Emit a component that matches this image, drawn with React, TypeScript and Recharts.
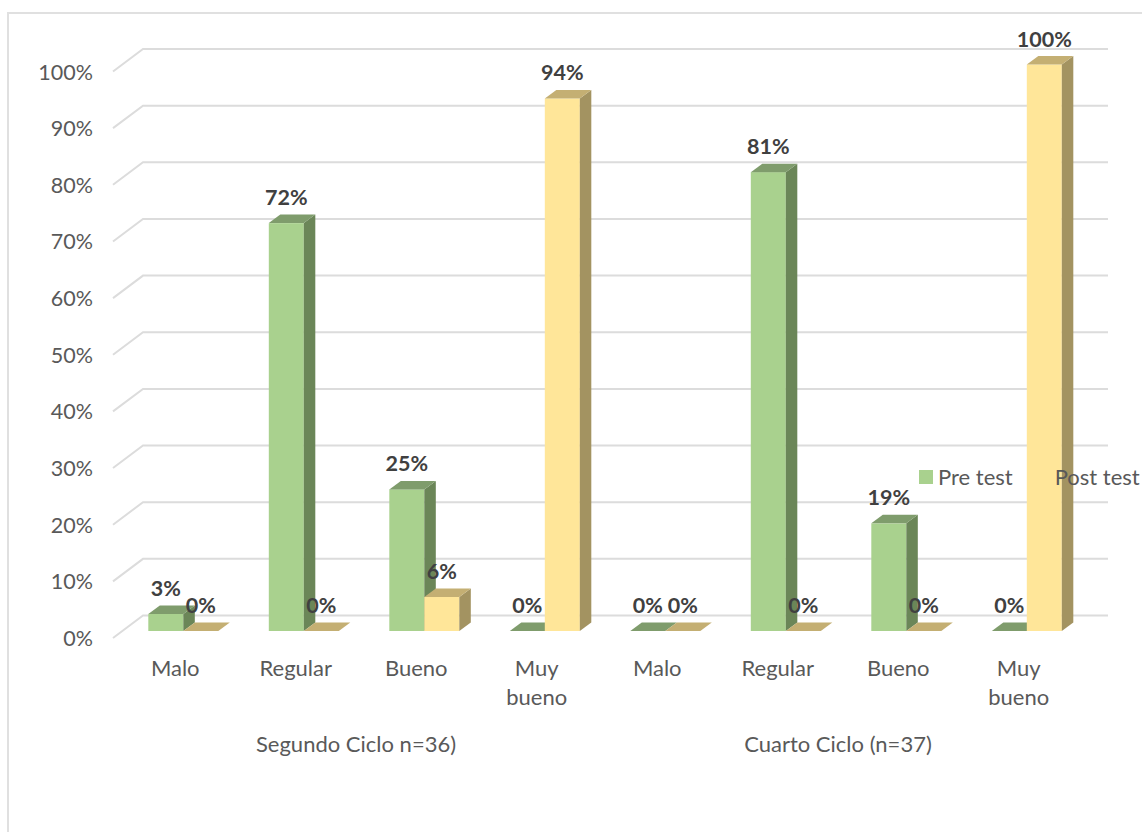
import { Bar, BarChart, CartesianGrid, LabelList, Legend, XAxis, YAxis } from 'recharts';

const categorias = ['Malo', 'Regular', 'Bueno', 'Muy bueno', 'Malo', 'Regular', 'Bueno', 'Muy bueno'];
const grupos = [
  'Segundo Ciclo n=36)',
  'Segundo Ciclo n=36)',
  'Segundo Ciclo n=36)',
  'Segundo Ciclo n=36)',
  'Cuarto Ciclo (n=37)',
  'Cuarto Ciclo (n=37)',
  'Cuarto Ciclo (n=37)',
  'Cuarto Ciclo (n=37)',
];
const preTest = [3, 72, 25, 0, 0, 81, 19, 0];
const postTest = [0, 0, 6, 94, 0, 0, 0, 100];
const yTicks = [0, 10, 20, 30, 40, 50, 60, 70, 80, 90, 100];

const chartData = categorias.map((categoria, i) => ({
  categoria,
  grupo: grupos[i],
  pre: preTest[i],
  post: postTest[i],
}));

const FONT = 'Lato, sans-serif';
const DEPTH_X = 11.5;
const DEPTH_Y = 8.5;

// caras de la barra 3D
function bar3d(front: string, top: string, side: string) {
  return (props: any) => {
    const { x, y, width, height } = props;
    const dx = DEPTH_X;
    const dy = DEPTH_Y;
    return (
      <g>
        {height > 0 && <rect x={x} y={y} width={width} height={height} fill={front} />}
        {height > 0 && (
          <path
            d={`M${x + width},${y} L${x + width + dx},${y - dy} L${x + width + dx},${y + height - dy} L${x + width},${y + height} Z`}
            fill={side}
          />
        )}
        <path
          d={`M${x},${y} L${x + dx},${y - dy} L${x + width + dx},${y - dy} L${x + width},${y} Z`}
          fill={top}
        />
      </g>
    );
  };
}

// linea de la pared del fondo con su diagonal en el lado izquierdo
function gridLine3d(props: any) {
  const { y1, key } = props;
  return (
    <polyline
      key={key}
      points={`113,${y1 + 7} 143,${y1 - 15.5} 1108,${y1 - 15.5}`}
      fill="none"
      stroke="#dcdcdc"
      strokeWidth={2}
    />
  );
}

function CategoryTick(props: any) {
  const { x, y, payload } = props;
  const words = payload.value === 'Muy bueno' ? ['Muy', 'bueno'] : [payload.value];
  return (
    <text x={x - 8} y={y} textAnchor="middle" fontSize={22} fontFamily={FONT} fill="#595959">
      {words.map((word: string, i: number) => (
        <tspan key={i} x={x - 8} y={y + 37 + i * 29}>
          {word}
        </tspan>
      ))}
    </text>
  );
}

function GroupTick(props: any) {
  const { x, y, payload } = props;
  return (
    <text x={x - 8} y={y + 53} textAnchor="middle" fontSize={22} fontFamily={FONT} fill="#595959">
      {payload.value}
    </text>
  );
}

function YTick(props: any) {
  const { y, payload } = props;
  return (
    <text x={93} y={y + 15} textAnchor="end" fontSize={21.5} fontFamily={FONT} fill="#595959">
      {payload.value}%
    </text>
  );
}

function LegendContent() {
  const items = [
    { name: 'Pre test', color: '#a9d18e' },
    { name: 'Post test', color: '#ffe699' },
  ];
  return (
    <div style={{ display: 'flex', gap: 23, fontFamily: FONT, fontSize: 22, color: '#595959', lineHeight: '26px' }}>
      {items.map((item) => (
        <div key={item.name} style={{ display: 'flex', alignItems: 'center', gap: 5, whiteSpace: 'nowrap' }}>
          <span style={{ width: 14, height: 14, background: item.color, display: 'inline-block' }} />
          {item.name}
        </div>
      ))}
    </div>
  );
}

const labelStyle = { fontFamily: FONT, fontSize: 21.5, fontWeight: 700, fill: '#404040' };

export default function App() {
  return (
    <div style={{ position: 'absolute', left: 0, top: 0, width: 1142, height: 832, overflow: 'hidden', background: '#fff' }}>
      <div
        style={{
          position: 'absolute',
          left: 7,
          top: 12,
          width: 1200,
          height: 900,
          border: '2px solid #e0e0e0',
        }}
      />
      <div style={{ position: 'absolute', left: 0, top: 0 }}>
        <BarChart
          width={1142}
          height={832}
          data={chartData}
          margin={{ top: 64.5, right: 55, bottom: 81, left: 0 }}
          barCategoryGap="21%"
          barGap={0}
        >
          <CartesianGrid vertical={false} horizontal={gridLine3d} />
          <XAxis
            dataKey="categoria"
            interval={0}
            height={60}
            axisLine={false}
            tickLine={false}
            tick={CategoryTick}
          />
          <XAxis
            xAxisId="grupo"
            dataKey="grupo"
            allowDuplicatedCategory={false}
            height={60}
            axisLine={false}
            tickLine={false}
            tick={GroupTick}
          />
          <YAxis width={123} domain={[0, 100]} ticks={yTicks} axisLine={false} tickLine={false} tick={YTick} />
          <Legend
            layout="horizontal"
            verticalAlign="middle"
            content={LegendContent}
            wrapperStyle={{ left: 919, top: 464, width: 260, height: 26 }}
          />
          <Bar dataKey="pre" name="Pre test" isAnimationActive={false} shape={bar3d('#a9d18e', '#7f9c6c', '#6b8658')}>
            <LabelList dataKey="pre" position="top" offset={18} formatter={(v: any) => `${v}%`} style={labelStyle} />
          </Bar>
          <Bar dataKey="post" name="Post test" isAnimationActive={false} shape={bar3d('#ffe699', '#c4af73', '#a39361')}>
            <LabelList dataKey="post" position="top" offset={18} formatter={(v: any) => `${v}%`} style={labelStyle} />
          </Bar>
        </BarChart>
      </div>
    </div>
  );
}
